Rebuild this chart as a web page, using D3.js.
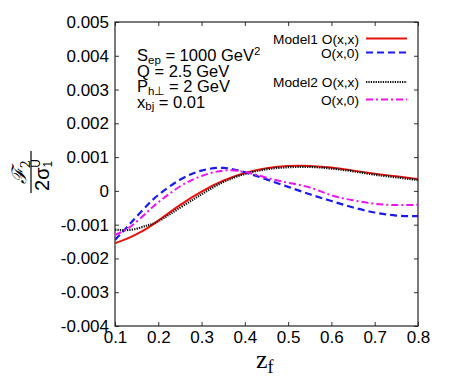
<!DOCTYPE html>
<html>
<head>
<meta charset="utf-8">
<script src="https://cdn.jsdelivr.net/npm/d3@7"></script>
<style>
  body { margin: 0; background: #fff; }
</style>
</head>
<body>
<svg id="chart" width="450" height="382" font-family="Liberation Sans, Helvetica, Arial, sans-serif"></svg>
<script>
// values
const zf = [0.1, 0.125, 0.15, 0.175, 0.2, 0.25, 0.3, 0.35, 0.4, 0.45, 0.5, 0.55, 0.6, 0.65, 0.7, 0.75, 0.8];
const model1Oxx = [-0.00155, -0.00143, -0.00128, -0.0011, -0.00088, -0.00042, -0.00002, 0.0003, 0.00053, 0.00067, 0.00074, 0.00074, 0.00069, 0.0006, 0.00051, 0.00043, 0.00035];
const model1Ox0 = [-0.00145, -0.00111, -0.00076, -0.00042, -0.00012, 0.00033, 0.0006, 0.00068, 0.00055, 0.00034, 0.00012, -0.0001, -0.0003, -0.00049, -0.00064, -0.00073, -0.00075];
const model2Oxx = [-0.00115, -0.00116, -0.00112, -0.00102, -0.0009, -0.0005, -0.0001, 0.00026, 0.0005, 0.00064, 0.0007, 0.00071, 0.00066, 0.00058, 0.00048, 0.0004, 0.00032];
const model2Ox0 = [-0.0013, -0.00115, -0.00091, -0.00062, -0.00034, 0.00013, 0.00044, 0.0006, 0.00056, 0.00039, 0.00024, 0.0001, -0.00013, -0.00028, -0.00038, -0.00042, -0.00041];

const xTicks = [0.1, 0.2, 0.3, 0.4, 0.5, 0.6, 0.7, 0.8];
const yTicks = [-0.004, -0.003, -0.002, -0.001, 0, 0.001, 0.002, 0.003, 0.004, 0.005];
const legendLabels = ["Model1 O(x,x)", "O(x,0)", "Model2 O(x,x)", "O(x,0)"];

const margin = {left: 115, top: 22, right: 32, bottom: 56};
const width = 450 - margin.left - margin.right;
const height = 382 - margin.top - margin.bottom;

const svg = d3.select("#chart");
const g = svg.append("g").attr("transform", `translate(${margin.left},${margin.top})`);

const x = d3.scaleLinear().domain([0.1, 0.8]).range([0, width]);
const y = d3.scaleLinear().domain([-0.004, 0.005]).range([height, 0]);

const yFmt = d => d === 0 ? "0" : d.toFixed(3);

// axes (ticks point inward, mirrored on top/right)
const ax = g.append("g").attr("transform", `translate(0,${height})`)
  .call(d3.axisBottom(x).tickValues(xTicks).tickSize(-4).tickPadding(5).tickFormat(d => d.toFixed(1)));
const ay = g.append("g")
  .call(d3.axisLeft(y).tickValues(yTicks).tickSize(-4).tickPadding(6).tickFormat(yFmt));
const axTop = g.append("g")
  .call(d3.axisTop(x).tickValues(xTicks).tickSize(-4).tickFormat(""));
const ayRight = g.append("g").attr("transform", `translate(${width},0)`)
  .call(d3.axisRight(y).tickValues(yTicks).tickSize(-4).tickFormat(""));

[ax, ay, axTop, ayRight].forEach(a => {
  a.select(".domain").remove();
  a.selectAll(".tick line").attr("stroke", "#333");
  a.selectAll("text").attr("font-size", 17).attr("fill", "#000")
    .attr("font-family", "Liberation Sans, Helvetica, Arial, sans-serif");
});

g.append("rect").attr("width", width).attr("height", height)
  .attr("fill", "none").attr("stroke", "#222").attr("stroke-width", 1.2);

// curves
const series = [
  {vals: model1Oxx, color: "#e8120c", dash: null, w: 2},
  {vals: model1Ox0, color: "#1a1aef", dash: "7,4", w: 2.2},
  {vals: model2Oxx, color: "#111", dash: "1.3,1.1", w: 2.2},
  {vals: model2Ox0, color: "#f010f0", dash: "7,3,2,3", w: 2}
];

const line = d3.line().x(d => x(d[0])).y(d => y(d[1])).curve(d3.curveNatural);

g.append("clipPath").attr("id", "clip")
  .append("rect").attr("width", width).attr("height", height);

const curves = g.append("g").attr("clip-path", "url(#clip)");
series.forEach(s => {
  curves.append("path")
    .attr("d", line(zf.map((z, i) => [z, s.vals[i]])))
    .attr("fill", "none")
    .attr("stroke", s.color)
    .attr("stroke-width", s.w)
    .attr("stroke-dasharray", s.dash);
});

// legend
const legendY = [38.5, 52.5, 82, 99.5];
const legend = svg.append("g");
legendLabels.forEach((lab, i) => {
  legend.append("text")
    .attr("x", 359).attr("y", legendY[i] + 5)
    .attr("text-anchor", "end").attr("font-size", 13.7)
    .text(lab);
  legend.append("line")
    .attr("x1", 366).attr("x2", 407)
    .attr("y1", legendY[i]).attr("y2", legendY[i])
    .attr("stroke", series[i].color)
    .attr("stroke-width", series[i].w)
    .attr("stroke-dasharray", series[i].dash);
});

// parameter annotation
const ann = svg.append("g").attr("font-size", 16.5);
let t = ann.append("text").attr("x", 137).attr("y", 61);
t.append("tspan").text("S");
t.append("tspan").attr("font-size", 11.5).attr("dy", 2.5).text("ep");
t.append("tspan").attr("dy", -2.5).text(" = 1000 GeV");
t.append("tspan").attr("font-size", 11.5).attr("dy", -6).text("2");
ann.append("text").attr("x", 137).attr("y", 76.5).text("Q = 2.5 GeV");
t = ann.append("text").attr("x", 137).attr("y", 92);
t.append("tspan").text("P");
t.append("tspan").attr("font-size", 11.5).attr("dy", 2.5).text("h\u22A5");
t.append("tspan").attr("dy", -2.5).text(" = 2 GeV");
t = ann.append("text").attr("x", 137).attr("y", 107.5);
t.append("tspan").text("x");
t.append("tspan").attr("font-size", 11.5).attr("dy", 2.5).text("bj");
t.append("tspan").attr("dy", -2.5).text(" = 0.01");

// x label
t = svg.append("text").attr("x", 256).attr("y", 368)
  .attr("font-family", "Liberation Serif, DejaVu Serif, serif").attr("font-size", 26);
t.append("tspan").text("z");
t.append("tspan").attr("font-size", 18).attr("dy", 5).text("f");

// y label: fraction F2 / (2 sigma_1^U), rotated
const yl = svg.append("g").attr("transform", "translate(31,172) rotate(-90)");
yl.append("line").attr("x1", -21).attr("x2", 21).attr("y1", 0).attr("y2", 0)
  .attr("stroke", "#000").attr("stroke-width", 1.2);
t = yl.append("text").attr("x", 0).attr("y", -5).attr("text-anchor", "middle")
  .attr("font-family", "DejaVu Serif, Liberation Serif, serif").attr("font-size", 20);
t.append("tspan").attr("font-style", "italic").text("\u2131");
t.append("tspan").attr("font-size", 13).attr("dy", 4).text("2");
t = yl.append("text").attr("x", -3).attr("y", 18).attr("text-anchor", "middle")
  .attr("font-family", "Liberation Sans, Helvetica, sans-serif").attr("font-size", 20);
t.append("tspan").text("2\u03C3");
t.append("tspan").attr("font-size", 12).attr("dy", 3).text("1");
t.append("tspan").attr("font-size", 12).attr("dx", -7).attr("dy", -12).text("U");
</script>
</body>
</html>
